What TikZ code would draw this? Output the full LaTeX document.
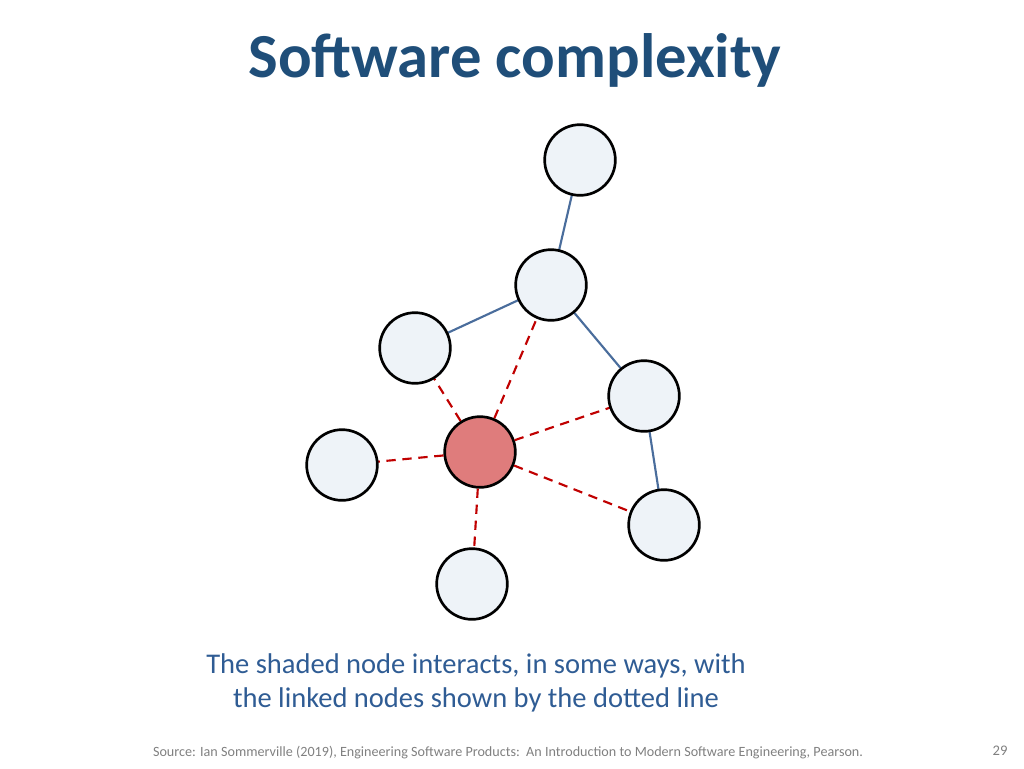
\documentclass[tikz,border=0pt]{standalone}
\usepackage{fontspec}
\setmainfont{Carlito}
\definecolor{titleblue}{HTML}{1F4E79}
\definecolor{textblue}{HTML}{2F5C94}
\definecolor{linkblue}{HTML}{4A6D9C}
\definecolor{linkred}{HTML}{C00000}
\definecolor{nodefill}{HTML}{EEF3F8}
\definecolor{shaded}{HTML}{DF7C7C}
\begin{document}
\begin{tikzpicture}[x=0.75pt,y=-0.75pt,
    comp/.style={circle,draw=black,line width=2pt,fill=nodefill,minimum size=53pt,inner sep=0pt},
    link/.style={draw=linkblue,line width=1.6pt},
    dep/.style={draw=linkred,line width=1.6pt,dash pattern=on 7pt off 5pt}]
    \useasboundingbox (0,0) rectangle (1024,768);
    %title
    \node[font=\bfseries\fontsize{47}{56}\selectfont,text=titleblue] (title) at (515,60) {Software complexity};

    \coordinate (pA) at (580,160);
    \coordinate (pB) at (551,285);
    \coordinate (pC) at (415,348);
    \coordinate (pD) at (644,396);
    \coordinate (pE) at (342,465);
    \coordinate (pF) at (664,525);
    \coordinate (pG) at (472,584);

    \draw[link] (pA) -- (pB);
    \draw[link] (pB) -- (pC);
    \draw[link] (pB) -- (pD);
    \draw[link] (pD) -- (pF);

    \node[comp,fill=shaded] (hub) at (480,452) {};
    \foreach \p in {pB,pC,pD,pE,pF,pG}
        \draw[dep] (hub) -- (\p);

    \node[comp] (a) at (pA) {};
    \node[comp] (b) at (pB) {};
    \node[comp] (c) at (pC) {};
    \node[comp] (d) at (pD) {};
    \node[comp] (e) at (pE) {};
    \node[comp] (f) at (pF) {};
    \node[comp] (g) at (pG) {};

    %caption
    \node[align=center,text=textblue,font=\fontsize{21.4}{26}\selectfont] (caption) at (476,683)
        {The shaded node interacts, in some ways, with\\the linked nodes shown by the dotted line};
    \node[text=gray,font=\fontsize{10.6}{12}\selectfont] (source) at (508,753)
        {Source: Ian Sommerville (2019), Engineering Software Products:\ \ An Introduction to Modern Software Engineering, Pearson.};
    \node[text=gray,font=\fontsize{11}{13}\selectfont] (page) at (1000,751) {29};
\end{tikzpicture}
\end{document}
